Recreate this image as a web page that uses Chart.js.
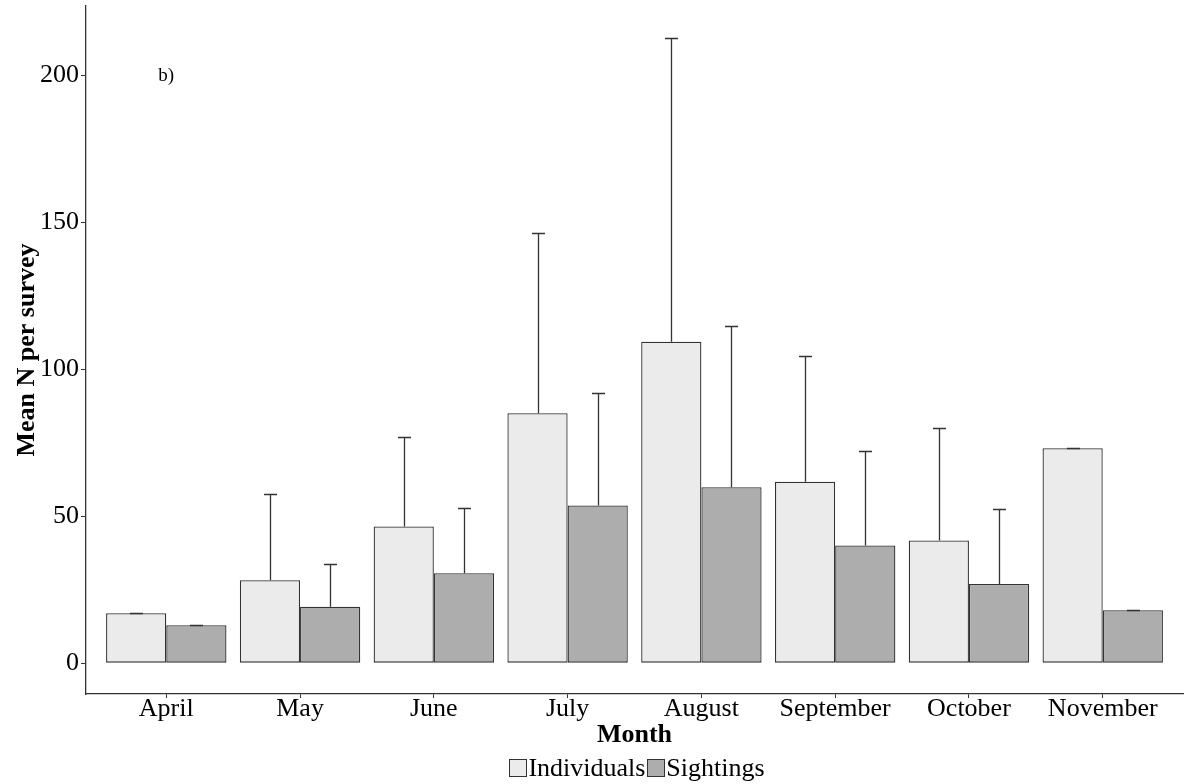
<!DOCTYPE html>
<html>
<head>
<meta charset="utf-8">
<script src="https://cdn.jsdelivr.net/npm/chart.js@4/dist/chart.umd.min.js"></script>
<style>
  html, body { margin: 0; padding: 0; background: #fff; }
  #chart { display: block; }
</style>
</head>
<body>
<canvas id="chart" width="1184" height="784"></canvas>
<script>
const months = ["April", "May", "June", "July", "August", "September", "October", "November"];
const individuals = [17.0, 28.2, 46.5, 85.0, 109.3, 61.7, 41.7, 73.1];
const individualsUpper = [17.0, 57.4, 76.9, 146.4, 212.6, 104.3, 80.0, 73.1];
const sightings = [12.9, 19.2, 30.6, 53.6, 59.8, 40.0, 26.9, 18.0];
const sightingsUpper = [12.9, 33.6, 52.8, 91.8, 114.8, 72.3, 52.4, 18.0];
const yTicks = [0, 50, 100, 150, 200];

const serif = "'Liberation Serif', 'Times New Roman', serif";
const ink = "#333333";

// error bars (upper only), panel label, axis titles and legend
const overlay = {
  id: "overlay",
  afterDatasetsDraw(chart) {
    const ctx = chart.ctx;
    const y = chart.scales.y;

    ctx.save();
    ctx.strokeStyle = ink;
    ctx.lineWidth = 1.3;

    [individualsUpper, sightingsUpper].forEach(function (upper, d) {
      chart.getDatasetMeta(d).data.forEach(function (bar, i) {
        const top = Math.round(y.getPixelForValue(upper[i])) + 0.5;
        const cx = Math.round(bar.x) + 0.5;
        ctx.beginPath();
        ctx.moveTo(cx, bar.y);
        ctx.lineTo(cx, top);
        ctx.moveTo(cx - 6.5, top);
        ctx.lineTo(cx + 6.5, top);
        ctx.stroke();
      });
    });
    ctx.restore();
  },
  afterDraw(chart) {
    const ctx = chart.ctx;
    const x = chart.scales.x;
    const y = chart.scales.y;
    const area = chart.chartArea;

    ctx.save();
    ctx.fillStyle = "#000";

    // panel label
    ctx.font = "19px " + serif;
    ctx.textAlign = "center";
    ctx.textBaseline = "alphabetic";
    ctx.fillText("b)", x.getPixelForValue(1), y.getPixelForValue(200) + 6);

    // x title
    ctx.font = "bold 26px " + serif;
    ctx.fillText("Month", (area.left + area.right) / 2, 742);

    // y title
    ctx.save();
    ctx.translate(34, (area.top + area.bottom) / 2);
    ctx.rotate(-Math.PI / 2);
    ctx.fillText("Mean N per survey", 0, 0);
    ctx.restore();

    // legend
    ctx.font = "26px " + serif;
    ctx.textAlign = "left";
    const items = [
      { label: "Individuals", color: "#EBEBEB" },
      { label: "Sightings", color: "#ADADAD" }
    ];
    const box = 17;
    const gap = 2;
    let total = 0;
    items.forEach(function (it) {
      it.w = ctx.measureText(it.label).width;
      total += box + gap + it.w;
    });
    total += gap;
    let lx = 637 - total / 2;
    items.forEach(function (it) {
      ctx.fillStyle = it.color;
      ctx.fillRect(lx, 759, box, box);
      ctx.strokeStyle = ink;
      ctx.lineWidth = 1;
      ctx.strokeRect(Math.round(lx) + 0.5, 759.5, box, box);
      ctx.fillStyle = "#000";
      ctx.fillText(it.label, lx + box + gap, 776);
      lx += box + gap + it.w + gap;
    });

    ctx.restore();
  }
};

new Chart(document.getElementById("chart"), {
  type: "bar",
  data: {
    datasets: [
      {
        label: "Individuals",
        data: individuals.map(function (v, i) { return { x: i + 1, y: v }; }),
        backgroundColor: "#EBEBEB",
        borderColor: ink,
        borderWidth: 1.3,
        borderSkipped: false
      },
      {
        label: "Sightings",
        data: sightings.map(function (v, i) { return { x: i + 1, y: v }; }),
        backgroundColor: "#ADADAD",
        borderColor: ink,
        borderWidth: 1.3,
        borderSkipped: false
      }
    ]
  },
  options: {
    responsive: false,
    devicePixelRatio: 1,
    animation: false,
    layout: {
      padding: { top: 6, right: 1, left: 0, bottom: 0 }
    },
    datasets: {
      bar: {
        categoryPercentage: 0.9,
        barPercentage: 1.0
      }
    },
    plugins: {
      legend: { display: false },
      tooltip: { enabled: false }
    },
    scales: {
      x: {
        type: "linear",
        min: 0.4,
        max: 8.6,
        offset: false,
        afterBuildTicks: function (scale) {
          scale.ticks = months.map(function (m, i) { return { value: i + 1 }; });
        },
        afterFit: function (scale) {
          scale.height = 90;
          scale.paddingLeft = 0;
          scale.paddingRight = 0;
        },
        border: { display: true, color: ink, width: 1.3 },
        grid: {
          display: true,
          offset: false,
          drawOnChartArea: false,
          drawTicks: true,
          tickLength: 4,
          color: ink
        },
        ticks: {
          padding: -4,
          color: "#000",
          maxRotation: 0,
          minRotation: 0,
          autoSkip: false,
          font: { family: serif, size: 26 },
          callback: function (value) {
            return months[Math.round(value) - 1];
          }
        }
      },
      y: {
        min: -10.5,
        max: 223.5,
        afterBuildTicks: function (scale) {
          scale.ticks = yTicks.map(function (v) { return { value: v }; });
        },
        afterFit: function (scale) {
          scale.width = 86;
          scale.paddingTop = 0;
          scale.paddingBottom = 0;
        },
        border: { display: true, color: ink, width: 1.3 },
        grid: {
          display: true,
          drawOnChartArea: false,
          drawTicks: true,
          tickLength: 5,
          color: ink
        },
        ticks: {
          padding: 2,
          color: "#000",
          font: { family: serif, size: 26 }
        }
      }
    }
  },
  plugins: [overlay]
});
</script>
</body>
</html>
